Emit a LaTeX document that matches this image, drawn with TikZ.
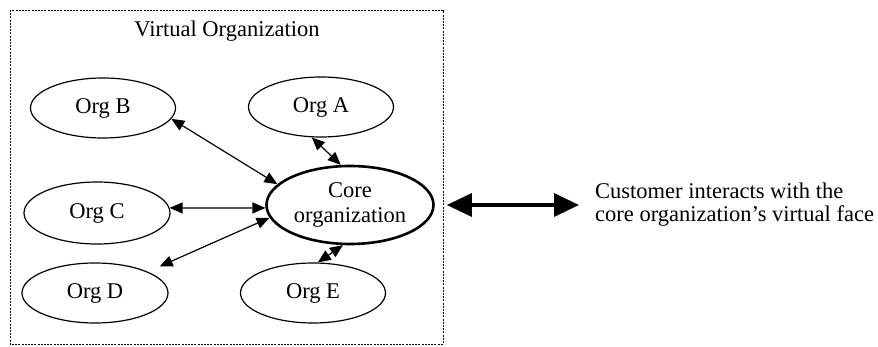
\documentclass[tikz,border=0pt]{standalone}
\usepackage{fontspec}
\setmainfont{Liberation Serif}
\usetikzlibrary{shapes.geometric,arrows.meta}
\begin{document}
\begin{tikzpicture}[x=1pt,y=-1pt,
  txt/.style={font=\fontsize{22.5}{25}\selectfont},
  org/.style={ellipse, draw, line width=1.2pt, inner sep=0pt, minimum width=145pt, minimum height=60pt, txt},
  coreorg/.style={org, line width=2.6pt, minimum width=167pt, minimum height=78pt, align=center},
  link/.style={{Triangle[length=13pt,width=11pt]}-{Triangle[length=13pt,width=11pt]}, line width=1.2pt},
  bigarrow/.style={{Triangle[length=25pt,width=23pt]}-{Triangle[length=25pt,width=23pt]}, line width=3.4pt},
  vframe/.style={draw, line width=0.9pt, dash pattern=on 2pt off 1.2pt}]
\useasboundingbox (0,0) rectangle (878,347);
\draw[vframe] (10,10) rectangle (443,344);
\node[txt] (title) at (227,31) {Virtual Organization};
\node[org] (B) at (103,108) {Org B};
\node[org] (A) at (321,107) {Org A};
\node[org, minimum width=146pt, minimum height=62pt] (C) at (97,213) {Org C};
\node[org, minimum width=146pt] (D) at (95,293) {Org D};
\node[org] (E) at (313,293) {Org E};
\node[coreorg] (core) at (350,205) {Core\\organization};
\node[anchor=west, align=left, inner sep=0pt, font=\fontsize{22.5}{23}\selectfont] (cust) at (595,205) {Customer interacts with the\\core organization’s virtual face};
\draw[link] (B.-9) -- (core.164);
\draw[link] (A.-107) -- (core.103);
\draw[link] (C.4) -- (core.182);
\draw[link, shorten <=13pt] (D.22) -- (core.189);
\draw[link] (E.81) -- (core.260);
\draw[bigarrow] ([xshift=12pt]core.east) -- ([xshift=-16pt]cust.west);
\end{tikzpicture}
\end{document}
